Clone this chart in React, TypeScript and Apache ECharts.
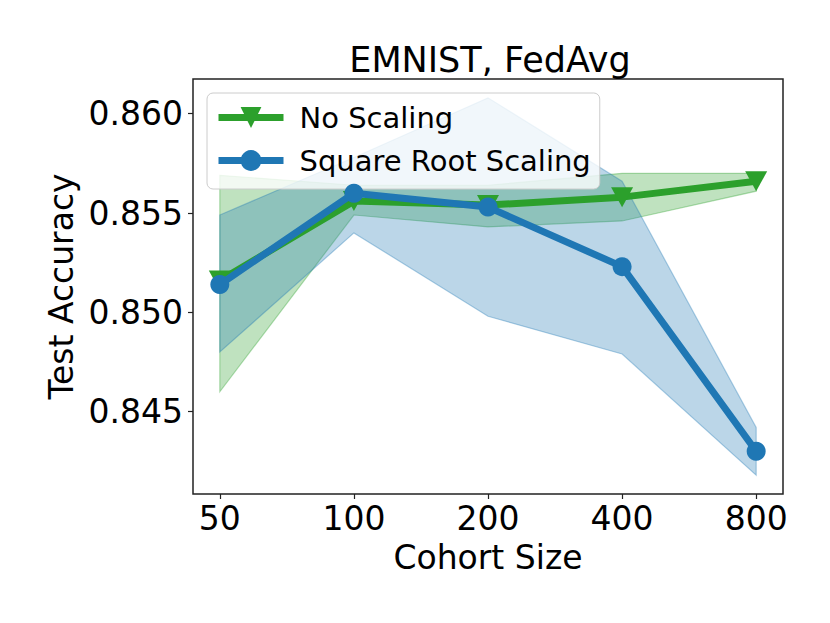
import React, { useEffect, useRef } from "react";
import * as echarts from "echarts";

const categories = ["50", "100", "200", "400", "800"];
const noScalingMean = [0.8516, 0.8556, 0.8554, 0.8558, 0.8566];
const noScalingLower = [0.846, 0.8549, 0.8543, 0.8546, 0.8561];
const noScalingUpper = [0.8569, 0.8564, 0.8564, 0.857, 0.857];
const sqrtMean = [0.8514, 0.856, 0.8553, 0.8523, 0.843];
const sqrtLower = [0.848, 0.854, 0.8498, 0.8479, 0.8418];
const sqrtUpper = [0.8549, 0.8578, 0.8608, 0.8566, 0.8442];
const yTicks = [0.845, 0.85, 0.855, 0.86];

const GREEN = "#2ca02c";
const BLUE = "#1f77b4";
const FONT = "DejaVu Sans";

function bandSeries(name: string, lower: number[], upper: number[], fill: string, stroke: string) {
  return {
    name,
    type: "custom",
    coordinateSystem: "cartesian2d",
    silent: true,
    z: 1,
    data: categories.map((_, i) => [i, lower[i], upper[i]]),
    encode: { x: 0, y: [1, 2] },
    renderItem: (params: any, api: any) => {
      if (params.dataIndex !== 0) return null;
      const pts: number[][] = [];
      for (let i = 0; i < upper.length; i++) pts.push(api.coord([i, upper[i]]));
      for (let i = lower.length - 1; i >= 0; i--) pts.push(api.coord([i, lower[i]]));
      return {
        type: "polygon",
        shape: { points: pts },
        style: { fill, stroke, lineWidth: 1.2 },
      };
    },
  };
}

export default function App() {
  const ref = useRef<HTMLDivElement>(null);
  useEffect(() => {
    if (!ref.current) return;
    const chart = echarts.init(ref.current, undefined, { renderer: "svg" });
    const all = [...noScalingLower, ...noScalingUpper, ...sqrtLower, ...sqrtUpper, ...noScalingMean, ...sqrtMean];
    const lo = Math.min(...all);
    const hi = Math.max(...all);
    const pad = (hi - lo) * 0.05;
    chart.setOption({
      animation: false,
      backgroundColor: "#fff",
      textStyle: { fontFamily: FONT },
      title: {
        text: "EMNIST, FedAvg",
        left: 485,
        textAlign: "center",
        top: 37,
        textStyle: { fontFamily: FONT, fontSize: 35, fontWeight: "normal", color: "#000" },
      },
      grid: {
        left: 193,
        right: 47,
        top: 79,
        bottom: 129,
        show: true,
        borderColor: "#222",
        borderWidth: 1.5,
        backgroundColor: "transparent",
      },
      legend: {
        data: ["No Scaling", "Square Root Scaling"],
        orient: "vertical",
        left: 207,
        top: 93,
        itemWidth: 65,
        itemHeight: 26,
        itemGap: 14,
        padding: [10, 9, 14, 8],
        backgroundColor: "rgba(255,255,255,0.8)",
        borderColor: "#ccc",
        borderWidth: 1,
        borderRadius: 6,
        lineStyle: { width: 7 },
        textStyle: { fontFamily: FONT, fontSize: 29, color: "#000", padding: [0, 0, 0, 11] },
      },
      xAxis: {
        type: "value",
        min: -0.2,
        max: 4.2,
        name: "Cohort Size",
        nameLocation: "middle",
        nameGap: 47,
        nameTextStyle: { fontFamily: FONT, fontSize: 33, color: "#000", verticalAlign: "top" },
        axisLine: { show: false, onZero: false },
        splitLine: { show: false },
        axisTick: { show: true, customValues: [0, 1, 2, 3, 4], length: 5, lineStyle: { color: "#222", width: 1.2 } },
        axisLabel: {
          customValues: [0, 1, 2, 3, 4],
          formatter: (v: number) => categories[Math.round(v)],
          fontFamily: FONT,
          fontSize: 33,
          color: "#000",
          margin: 8,
        },
      },
      yAxis: {
        type: "value",
        min: lo - pad,
        max: hi + pad,
        name: "Test Accuracy",
        nameLocation: "middle",
        nameGap: 113,
        nameTextStyle: { fontFamily: FONT, fontSize: 33, color: "#000" },
        axisLine: { show: false, onZero: false },
        splitLine: { show: false },
        axisTick: { show: true, customValues: yTicks, length: 5, lineStyle: { color: "#222", width: 1.2 } },
        axisLabel: {
          customValues: yTicks,
          formatter: (v: number) => v.toFixed(3),
          fontFamily: FONT,
          fontSize: 33,
          color: "#000",
          margin: 10,
        },
      },
      series: [
        bandSeries("noBand", noScalingLower, noScalingUpper, "rgba(44,160,44,0.3)", "rgba(44,160,44,0.35)"),
        bandSeries("sqrtBand", sqrtLower, sqrtUpper, "rgba(31,119,180,0.3)", "rgba(31,119,180,0.35)"),
        {
          name: "No Scaling",
          type: "line",
          z: 3,
          data: noScalingMean.map((v, i) => [i, v]),
          symbol: "triangle",
          symbolRotate: 180,
          symbolSize: [22, 20],
          showSymbol: true,
          lineStyle: { color: GREEN, width: 7 },
          itemStyle: { color: GREEN },
        },
        {
          name: "Square Root Scaling",
          type: "line",
          z: 4,
          data: sqrtMean.map((v, i) => [i, v]),
          symbol: "circle",
          symbolSize: 19,
          showSymbol: true,
          lineStyle: { color: BLUE, width: 7 },
          itemStyle: { color: BLUE },
        },
      ],
    });
    return () => chart.dispose();
  }, []);
  return <div ref={ref} style={{ position: "fixed", left: 0, top: 0, width: 830, height: 623 }} />;
}
